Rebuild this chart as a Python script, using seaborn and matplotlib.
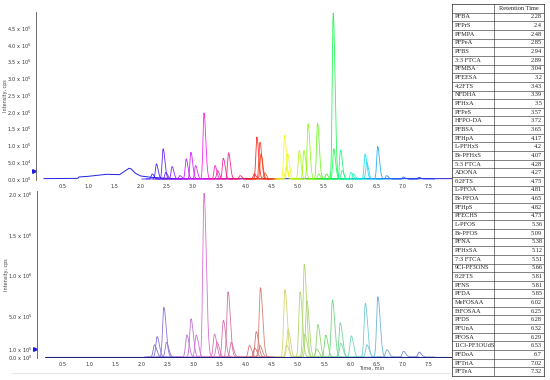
import colorsys
import numpy as np
import pandas as pd
import matplotlib.pyplot as plt
import seaborn as sns
from matplotlib.ticker import FixedLocator, MultipleLocator

# ==========================================
# Data
# ==========================================
compounds = ["PFBA", "PFPrS", "PFMPA", "PFPeA", "PFBS", "3:3 FTCA", "PFMBA", "PFEESA",
             "4:2FTS", "NFDHA", "PFHxA", "PFPeS", "HFPO-DA", "PFBSA", "PFHpA", "L-PFHxS",
             "Br-PFHxS", "5:3 FTCA", "ADONA", "6:2FTS", "L-PFOA", "Br-PFOA", "PFHpS",
             "PFECHS", "L-PFOS", "Br-PFOS", "PFNA", "PFHxSA", "7:3 FTCA", "9Cl-PF3ONS",
             "8:2FTS", "PFNS", "PFDA", "MeFOSAA", "EtFOSAA", "PFDS", "PFUnA", "PFOSA",
             "11Cl-PF3OUdS", "PFDoA", "PFTriA", "PFTeA"]
retention = ["2.28", "2.4", "2.48", "2.85", "2.94", "2.89", "3.04", "3.2", "3.43", "3.39",
             "3.5", "3.57", "3.72", "3.65", "4.17", "4.2", "4.07", "4.28", "4.27", "4.75",
             "4.81", "4.65", "4.82", "4.73", "5.36", "5.09", "5.38", "5.12", "5.51", "5.66",
             "5.81", "5.81", "5.85", "6.02", "6.25", "6.28", "6.32", "6.29", "6.53", "6.7",
             "7.02", "7.32"]

# upper run: peak apex (min) and height (cps)
top_rt = [2.22, 2.30, 2.43, 2.48, 2.60, 2.75, 2.87, 2.96, 3.05, 3.21, 3.42, 3.47, 3.58,
          3.68, 3.90, 4.17, 4.22, 4.28, 4.30, 4.37, 4.75, 4.78, 4.81, 5.03, 5.12, 5.20,
          5.38, 5.40, 5.55, 5.68, 5.69, 5.82, 5.85, 6.02, 6.07, 6.29, 6.32, 6.53, 6.70,
          7.02, 7.32]
top_height = [0.15e5, 0.45e5, 0.90e5, 0.20e5, 0.37e5, 0.10e5, 0.60e5, 0.80e5, 0.40e5,
              1.97e5, 0.40e5, 0.25e5, 0.62e5, 0.78e5, 0.10e5, 0.15e5, 1.25e5, 1.10e5,
              0.75e5, 0.18e5, 1.30e5, 0.35e5, 0.75e5, 0.85e5, 0.85e5, 1.65e5, 1.66e5,
              0.15e5, 0.15e5, 4.95e5, 0.90e5, 0.87e5, 0.25e5, 0.20e5, 0.15e5, 0.75e5,
              0.50e5, 0.97e5, 0.10e5, 0.06e5, 0.05e5]

# lower run
bot_rt = [2.25, 2.30, 2.43, 2.48, 2.87, 2.95, 3.05, 3.20, 3.40, 3.45, 3.57, 3.66, 3.72,
          4.07, 4.17, 4.20, 4.27, 4.28, 4.75, 4.78, 4.81, 5.04, 5.12, 5.13, 5.17, 5.36,
          5.38, 5.53, 5.66, 5.81, 5.82, 6.02, 6.29, 6.32, 6.53, 6.70, 7.02, 7.32]
bot_height = [0.15e6, 0.25e6, 0.61e6, 0.18e6, 0.27e6, 0.47e6, 0.27e6, 2.01e6, 0.28e6,
              0.18e6, 0.45e6, 0.80e6, 0.18e6, 0.14e6, 0.11e6, 0.31e6, 0.14e6, 0.85e6,
              0.83e6, 0.15e6, 0.34e6, 0.80e6, 1.14e6, 0.28e6, 0.69e6, 0.10e6, 0.40e6,
              0.27e6, 0.70e6, 0.42e6, 0.17e6, 0.26e6, 0.66e6, 0.15e6, 0.74e6, 0.09e6,
              0.07e6, 0.06e6]

# early blue trace of the upper run
base_t = [0.15, 0.80, 0.82, 1.00, 1.35, 1.60, 1.70, 1.78, 1.82, 1.90, 2.00, 2.20, 2.50,
          2.80, 7.95]
base_i = [0.1e4, 0.2e4, 0.6e4, 0.8e4, 1.4e4, 1.3e4, 2.4e4, 3.2e4, 3.0e4, 1.7e4, 0.9e4,
          0.5e4, 0.2e4, 0.1e4, 0.1e4]
bot_base_t = [0.15, 7.95]
bot_base_i = [0, 0]

top_yticks = [0, 5e4, 1e5, 1.5e5, 2e5, 2.5e5, 3e5, 3.5e5, 4e5, 4.5e5]
bot_yticks = [0, 1e5, 5e5, 1e6, 1.5e6, 2e6]
x_ticks = [0.5, 1.0, 1.5, 2.0, 2.5, 3.0, 3.5, 4.0, 4.5, 5.0, 5.5, 6.0, 6.5, 7.0, 7.5]

# ==========================================
# Helpers
# ==========================================
hue_t = [2.2, 3.2, 4.2, 4.8, 5.4, 5.7, 6.3, 6.6, 7.4]
hue_v = [0.68, 0.84, 1.0, 1.18, 1.28, 1.38, 1.52, 1.57, 1.65]


def trace_colour(rt, light, sat):
    h = np.interp(rt, hue_t, hue_v) % 1
    return colorsys.hls_to_rgb(h, light, sat)


def peak_frame(rts, heights, sigma, tag):
    parts = []
    for i, (rt, h) in enumerate(zip(rts, heights)):
        t = np.linspace(rt - 0.2, rt + 0.3, 250)
        s = np.where(t < rt, sigma, sigma * 1.8)
        y = h * np.exp(-0.5 * ((t - rt) / s) ** 2)
        parts.append(pd.DataFrame({"time": t, "intensity": y, "trace": f"{tag}{i:02d}"}))
    return pd.concat(parts, ignore_index=True)


def sci_label(v):
    if v == 0:
        return r"0.0 x 10$^{0}$"
    e = int(np.floor(np.log10(v)))
    return f"{v / 10 ** e:.1f} x 10$^{{{e}}}$"


def style_axis(ax, yticks, ylim, ystep):
    ax.set_xlim(0, 7.95)
    ax.set_ylim(*ylim)
    ax.xaxis.set_major_locator(FixedLocator(x_ticks))
    ax.set_xticklabels([f"{x:.1f}" for x in x_ticks])
    ax.xaxis.set_minor_locator(MultipleLocator(0.1))
    ax.yaxis.set_major_locator(FixedLocator(yticks))
    ax.set_yticklabels([sci_label(v) for v in yticks])
    ax.yaxis.set_minor_locator(MultipleLocator(ystep))
    ax.tick_params(which="both", labelsize=3.6, labelcolor="#333333", color="#555555",
                   width=0.4, pad=1.5, direction="out")
    ax.tick_params(which="major", length=1.6)
    ax.tick_params(which="minor", length=0.9)
    for side in ["top", "right", "bottom"]:
        ax.spines[side].set_visible(False)
    ax.spines["left"].set_color("#555555")
    ax.spines["left"].set_linewidth(0.6)
    ax.set_xlabel("")
    ax.set_ylabel("Intensity, cps", fontsize=3.5, color="#444444")
    ax.yaxis.set_label_coords(-0.068, 0.5)


# ==========================================
# Figure
# ==========================================
sns.set_style("white")
plt.rcParams["font.family"] = ["DejaVu Sans"]

fig = plt.figure(figsize=(5.5, 3.8), dpi=100)
ax_top = fig.add_axes([36 / 550, 200 / 380, 416 / 550, 168 / 380])
ax_bot = fig.add_axes([37 / 550, 22 / 380, 415 / 550, 167 / 380])

# upper run
top_df = peak_frame(top_rt, top_height, 0.019, "t")
top_pal = {f"t{i:02d}": trace_colour(rt, 0.52, 0.95) for i, rt in enumerate(top_rt)}
sns.lineplot(x=base_t, y=base_i, color="#2020e0", lw=0.7, ax=ax_top)
sns.lineplot(data=top_df, x="time", y="intensity", hue="trace", palette=top_pal,
             legend=False, estimator=None, sort=False, lw=0.6, alpha=0.9, ax=ax_top)
style_axis(ax_top, top_yticks, (-3e3, 4.98e5), 1e4)
ax_top.plot(-0.004, 2.4e4, marker=">", ms=2.6, color="#1a1ae0", clip_on=False,
            transform=ax_top.get_yaxis_transform())

# lower run
bot_df = peak_frame(bot_rt, bot_height, 0.024, "b")
bot_pal = {f"b{i:02d}": trace_colour(rt, 0.64, 0.55) for i, rt in enumerate(bot_rt)}
sns.lineplot(data=bot_df, x="time", y="intensity", hue="trace", palette=bot_pal,
             legend=False, estimator=None, sort=False, lw=0.6, ax=ax_bot)
sns.lineplot(x=bot_base_t, y=bot_base_i, color="#202080", lw=0.8, ax=ax_bot)
style_axis(ax_bot, bot_yticks, (-1.2e4, 2.037e6), 5e4)
ax_bot.plot(-0.004, 1e5, marker=">", ms=2.6, color="#1a1ae0", clip_on=False,
            transform=ax_bot.get_yaxis_transform())
ax_bot.text(0.807, -0.062, "Time, min", transform=ax_bot.transAxes, fontsize=3.6,
            color="#444444", ha="center", va="center")

# faint frame line under the plots
fig.add_artist(plt.Line2D([0.02, 0.82], [7 / 380, 7 / 380], color="#e8e8e8", lw=0.8))

# ==========================================
# Retention time table
# ==========================================
ax_tab = fig.add_axes([452 / 550, 4 / 380, 92 / 550, 372 / 380], zorder=5)
ax_tab.set_facecolor("white")
n_rows = len(compounds) + 1
ax_tab.set_xlim(0, 1)
ax_tab.set_ylim(n_rows, 0)
ax_tab.set_xticks([])
ax_tab.set_yticks([])
for sp in ax_tab.spines.values():
    sp.set_linewidth(0.5)
    sp.set_color("#222222")
ax_tab.hlines(np.arange(1, n_rows), 0, 1, color="#222222", lw=0.4)
ax_tab.vlines(0.456, 0, n_rows, color="#222222", lw=0.4)
ax_tab.text(0.728, 0.5, "Retention Time", fontsize=4.6, family="Liberation Serif",
            ha="center", va="center")
for i, (name, rt) in enumerate(zip(compounds, retention)):
    ax_tab.text(0.03, i + 1.5, name, fontsize=4.6, family="Liberation Serif",
                ha="left", va="center")
    ax_tab.text(0.98, i + 1.5, rt, fontsize=4.6, family="Liberation Serif",
                ha="right", va="center")

fig.savefig("out.png", dpi=100, facecolor="white")
